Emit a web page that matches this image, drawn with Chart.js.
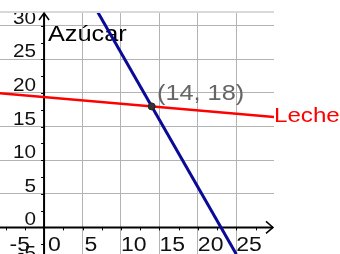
<!DOCTYPE html>
<html>
<head>
<meta charset="utf-8">
<script src="https://cdn.jsdelivr.net/npm/chart.js@4/dist/chart.umd.min.js"></script>
<style>
  html, body { margin: 0; padding: 0; background: #fff; }
  canvas { display: block; }
</style>
</head>
<body>
<canvas id="grafica" width="340" height="254"></canvas>
<script>
// datos
const lecheX = [-6, 30];
const lecheY = [20, 16.4];
const azucarX = [6, 25];
const azucarY = [34, -4];
const cruce = [14, 18];
const xTicks = [-5, 0, 5, 10, 15, 20, 25];
const yTicks = [-5, 0, 5, 10, 15, 20, 25, 30];
const xGrid = [5, 10, 15, 20, 25];
const yGrid = [5, 10, 15, 20, 25, 30];

const S = 1.15; // el texto del original esta algo estirado

function texto(ctx, str, x, y, font, color, align) {
    ctx.save();
    ctx.font = font;
    ctx.fillStyle = color;
    ctx.textBaseline = "alphabetic";
    const w = ctx.measureText(str).width * S;
    let left = x;
    if (align === "right") left = x - w;
    if (align === "center") left = x - w / 2;
    ctx.translate(left, y);
    ctx.scale(S, 1);
    ctx.textAlign = "left";
    ctx.fillText(str, 0, 0);
    ctx.restore();
}

const ejes = {
    id: "ejes",
    beforeDatasetsDraw(chart) {
        const ctx = chart.ctx;
        const xs = chart.scales.x;
        const ys = chart.scales.y;
        const area = chart.chartArea;
        const x0 = xs.getPixelForValue(0);
        const y0 = ys.getPixelForValue(0);

        // etiquetas de los ejes
        yTicks.forEach(v => {
            texto(ctx, String(v), 36, ys.getPixelForValue(v) - 2, "18px 'Liberation Sans', Arial", "#111", "right");
        });
        xTicks.forEach(v => {
            const dx = v <= 0 ? 4 : (v === 5 ? 2 : 0);
            texto(ctx, String(v), xs.getPixelForValue(v) + dx, 251, "20px 'Liberation Sans', Arial", "#111", "left");
        });

        // franja blanca de arriba
        ctx.save();
        ctx.fillStyle = "#fff";
        ctx.fillRect(0, 0, chart.width, area.top - 2);
        ctx.strokeStyle = "#d9d9d9";
        ctx.lineWidth = 2;
        ctx.beginPath();
        ctx.moveTo(area.left, area.top - 1);
        ctx.lineTo(area.right, area.top - 1);
        ctx.stroke();

        // ejes
        ctx.strokeStyle = "#000";
        ctx.lineWidth = 2;
        ctx.beginPath();
        ctx.moveTo(x0, area.top);
        ctx.lineTo(x0, area.bottom);
        ctx.moveTo(area.left, y0);
        ctx.lineTo(area.right - 1, y0);
        ctx.stroke();

        // flechas
        ctx.lineWidth = 1.5;
        ctx.beginPath();
        ctx.moveTo(x0 - 5, area.top + 7);
        ctx.lineTo(x0, area.top);
        ctx.lineTo(x0 + 5, area.top + 7);
        ctx.moveTo(area.right - 8, y0 - 6);
        ctx.lineTo(area.right - 1, y0);
        ctx.lineTo(area.right - 8, y0 + 6);
        ctx.stroke();

        // marcas pequeñas
        ctx.lineWidth = 1;
        ctx.beginPath();
        for (let v = -5; v <= 27.5; v += 2.5) {
            const px = Math.round(xs.getPixelForValue(v)) + 0.5;
            ctx.moveTo(px, y0);
            ctx.lineTo(px, y0 + 3);
        }
        for (let v = -2.5; v <= 30; v += 2.5) {
            const py = Math.round(ys.getPixelForValue(v)) + 0.5;
            ctx.moveTo(x0 - 3, py);
            ctx.lineTo(x0, py);
        }
        ctx.stroke();
        ctx.restore();

        // rotulos
        texto(ctx, "Azúcar", 48, 41, "22px 'Liberation Sans', Arial", "#000", "left");
        texto(ctx, "(14, 18)", 157, 100, "22px 'Liberation Sans', Arial", "#666", "left");
        texto(ctx, "Leche", area.right, 122, "21px 'Liberation Sans', Arial", "#ff0000", "left");
    }
};

new Chart(document.getElementById("grafica"), {
    type: "scatter",
    data: {
        datasets: [
            {
                label: "cruce",
                data: [{ x: cruce[0], y: cruce[1] }],
                pointRadius: 3.5,
                pointBackgroundColor: "#333",
                pointBorderColor: "#222",
                pointBorderWidth: 1,
                showLine: false,
            },
            {
                label: "Azúcar",
                data: azucarX.map((x, i) => ({ x: x, y: azucarY[i] })),
                showLine: true,
                borderColor: "#0a0a96",
                borderWidth: 3,
                pointRadius: 0,
                clip: 0,
            },
            {
                label: "Leche",
                data: lecheX.map((x, i) => ({ x: x, y: lecheY[i] })),
                showLine: true,
                borderColor: "#ff0000",
                borderWidth: 2.5,
                pointRadius: 0,
                clip: 0,
            },
        ],
    },
    options: {
        responsive: false,
        devicePixelRatio: 1,
        animation: false,
        layout: {
            autoPadding: false,
            padding: { top: 13, right: 66, left: 0, bottom: 0 },
        },
        plugins: {
            legend: { display: false },
            tooltip: { enabled: false },
        },
        scales: {
            x: {
                type: "linear",
                min: -5.73,
                max: 29.9,
                afterBuildTicks: scale => {
                    scale.ticks = xGrid.map(v => ({ value: v }));
                },
                ticks: { display: false },
                grid: { color: "#b3b3b3", lineWidth: 1, drawTicks: false },
                border: { display: false },
            },
            y: {
                type: "linear",
                min: -3.96,
                max: 31.9,
                afterBuildTicks: scale => {
                    scale.ticks = yGrid.map(v => ({ value: v }));
                },
                ticks: { display: false },
                grid: { color: "#b3b3b3", lineWidth: 1, drawTicks: false },
                border: { display: false },
            },
        },
    },
    plugins: [ejes],
});
</script>
</body>
</html>
